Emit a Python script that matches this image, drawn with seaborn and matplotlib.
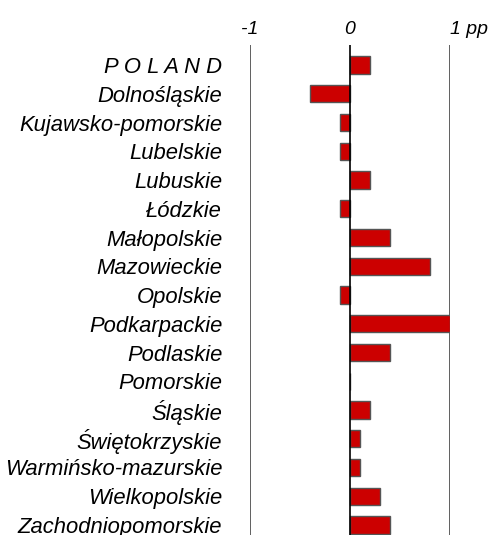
import pandas as pd
import seaborn as sns
import matplotlib.pyplot as plt

regions = ["P O L A N D", "Dolnośląskie", "Kujawsko-pomorskie", "Lubelskie",
           "Lubuskie", "Łódzkie", "Małopolskie", "Mazowieckie", "Opolskie",
           "Podkarpackie", "Podlaskie", "Pomorskie", "Śląskie", "Świętokrzyskie",
           "Warmińsko-mazurskie", "Wielkopolskie", "Zachodniopomorskie"]
change_pp = [0.2, -0.4, -0.1, -0.1, 0.2, -0.1, 0.4, 0.8, -0.1,
             1.0, 0.4, 0.0, 0.2, 0.1, 0.1, 0.3, 0.4]
tick_vals = [-1, 0, 1]
tick_labels = ["-1", "0", "1 pp"]

df = pd.DataFrame({"region": regions, "change": change_pp})

sns.set_style("white")
plt.rcParams["font.family"] = ["Liberation Sans", "DejaVu Sans"]

fig = plt.figure(figsize=(4.9, 5.35), dpi=100)
ax = fig.add_axes([250 / 490, 0.0, 200 / 490, 1 - 45 / 535])

sns.barplot(data=df, y="region", x="change", orient="h", color="#cc0000",
            saturation=1, width=0.6, edgecolor="#555555", linewidth=1, ax=ax)

for v in tick_vals:
    ax.axvline(v, color="black" if v == 0 else "#444444", lw=1.2, zorder=3 if v == 0 else 0)

ax.set_xlim(-1.0, 1.0)
ax.set_ylim(16.35, -0.7)
ax.xaxis.tick_top()
ax.set_xticks(tick_vals)
ax.set_xticklabels(tick_labels, fontstyle="italic", fontsize=14, color="black")
ax.get_xticklabels()[-1].set_horizontalalignment("left")
ax.tick_params(axis="x", length=0, pad=5)
ax.tick_params(axis="y", length=0, pad=20)
for lab in ax.get_yticklabels():
    lab.set_fontstyle("italic")
    lab.set_fontsize(15.8)
    lab.set_color("black")
ax.set_xlabel("")
ax.set_ylabel("")
for s in ax.spines.values():
    s.set_visible(False)
for lab in ax.get_xticklabels()[:2]:
    lab.set_horizontalalignment("center")

fig.savefig("out.png", dpi=100)
